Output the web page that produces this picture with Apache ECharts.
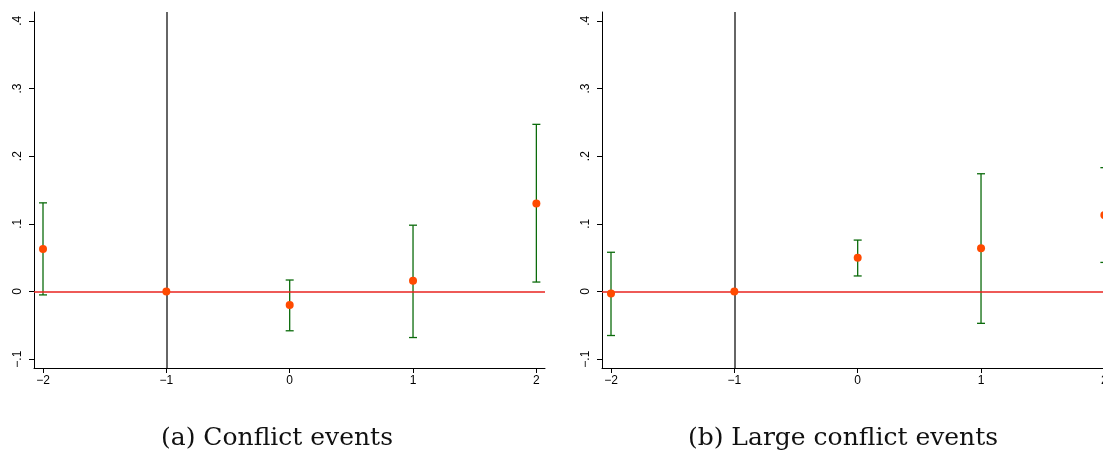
<!DOCTYPE html>
<html><head><meta charset="utf-8">
<script src="https://cdn.jsdelivr.net/npm/echarts@6/dist/echarts.min.js"></script>
<style>html,body{margin:0;padding:0;background:#fff}#c{width:1103px;height:454px}</style>
</head><body><div id="c"></div>
<script>
const periods = [-2, -1, 0, 1, 2];
const conflictCoef = [0.063, 0, -0.020, 0.016, 0.130];
const conflictLo = [-0.005, null, -0.058, -0.068, 0.014];
const conflictHi = [0.131, null, 0.017, 0.098, 0.247];
const largeCoef = [-0.003, 0, 0.050, 0.064, 0.113];
const largeLo = [-0.065, null, 0.023, -0.047, 0.043];
const largeHi = [0.058, null, 0.076, 0.174, 0.183];
const yTicks = [-0.1, 0, 0.1, 0.2, 0.3, 0.4];
const yTickLabels = ['−.1', '0', '.1', '.2', '.3', '.4'];
const xTicks = [-2, -1, 0, 1, 2];
const xTickLabels = ['−2', '−1', '0', '1', '2'];
const captions = ['(a) Conflict events', '(b) Large conflict events'];
const refPeriod = -1;

const panels = [
  {coef: conflictCoef, lo: conflictLo, hi: conflictHi, left: 34, cx: 277},
  {coef: largeCoef, lo: largeLo, hi: largeHi, left: 602, cx: 843}
];

function lookup(vals, labels, v) {
  for (let i = 0; i < vals.length; i++) if (Math.abs(vals[i] - v) < 1e-6) return labels[i];
  return '';
}

function renderItem(params, api) {
  const x = api.value(0), lo = api.value(1), hi = api.value(2);
  const top = api.coord([x, hi]), bot = api.coord([x, lo]);
  const w = 4;
  const style = {stroke: '#0b6b0b', lineWidth: 1.3};
  return {type: 'group', children: [
    {type: 'line', shape: {x1: top[0], y1: top[1], x2: bot[0], y2: bot[1]}, style: style},
    {type: 'line', shape: {x1: top[0] - w, y1: top[1], x2: top[0] + w, y2: top[1]}, style: style},
    {type: 'line', shape: {x1: bot[0] - w, y1: bot[1], x2: bot[0] + w, y2: bot[1]}, style: style}
  ]};
}

const grid = [], xAxis = [], yAxis = [], series = [];
panels.forEach((p, i) => {
  grid.push({left: p.left, top: 12, width: 511, height: 356, containLabel: false, outerBoundsMode: 'none'});
  xAxis.push({
    type: 'value', gridIndex: i, min: -2.073, max: 2.07,
    axisLine: {onZero: false, lineStyle: {color: '#000', width: 1}},
    axisTick: {length: 5, lineStyle: {color: '#000'}, customValues: xTicks},
    axisLabel: {customValues: xTicks, formatter: v => lookup(xTicks, xTickLabels, v),
      fontFamily: 'Liberation Sans', fontSize: 12, color: '#000', margin: 7},
    splitLine: {show: false}
  });
  yAxis.push({
    type: 'value', gridIndex: i, min: -0.113, max: 0.413,
    axisLine: {show: true, onZero: false, lineStyle: {color: '#000', width: 1}},
    axisTick: {show: true, length: 5, lineStyle: {color: '#000'}, customValues: yTicks},
    axisLabel: {customValues: yTicks, formatter: v => lookup(yTicks, yTickLabels, v), rotate: 90,
      fontFamily: 'Liberation Sans', fontSize: 12, color: '#000', margin: 10},
    splitLine: {show: false}
  });
  const ebData = [];
  periods.forEach((t, k) => { if (p.lo[k] !== null) ebData.push([t, p.lo[k], p.hi[k]]); });
  series.push({
    type: 'custom', xAxisIndex: i, yAxisIndex: i, z: 3, renderItem: renderItem,
    data: ebData, clip: false, silent: true,
    markLine: {
      silent: true, symbol: 'none', animation: false, label: {show: false},
      data: [
        {xAxis: refPeriod, lineStyle: {color: '#333', width: 1.5, type: 'solid'}},
        {yAxis: 0, lineStyle: {color: '#e8231f', width: 1.5, type: 'solid'}}
      ]
    }
  });
  series.push({
    type: 'scatter', xAxisIndex: i, yAxisIndex: i, z: 5, symbol: 'circle', symbolSize: 8,
    itemStyle: {color: '#ff4a00', opacity: 1}, silent: true,
    data: periods.map((t, k) => [t, p.coef[k]])
  });
});

const chart = echarts.init(document.getElementById('c'), null, {renderer: 'canvas'});
chart.setOption({
  animation: false, backgroundColor: '#fff',
  grid: grid, xAxis: xAxis, yAxis: yAxis, series: series,
  graphic: panels.map((p, i) => ({
    type: 'text', x: p.cx, y: 438,
    style: {text: captions[i], font: '25px "DejaVu Serif"', fill: '#111', align: 'center', verticalAlign: 'middle'}
  }))
});
</script></body></html>
